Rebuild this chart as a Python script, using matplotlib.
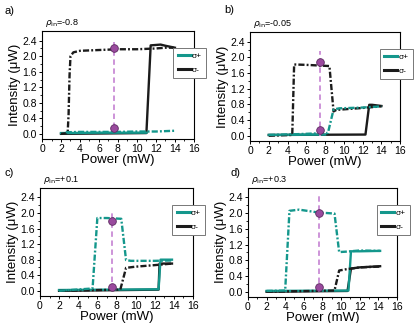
import numpy as np
import matplotlib
matplotlib.use("Agg")
import matplotlib.pyplot as plt
from matplotlib.lines import Line2D

plt.rcParams['font.family'] = ['Liberation Sans', 'DejaVu Sans']

TEAL = "#14978c"
BLACK = "#1b1b1b"
PURPLE_LINE = "#c98bd6"
PURPLE_DOT = "#9a4a9e"

# ---- données (Power en mW, Intensity en µW) ----
panel_tags = ["a)", "b)", "c)", "d)"]
rho_in = ["-0.8", "-0.05", "+0.1", "+0.3"]

# (a) rho_in = -0.8
a_sp_up_x = [2.5, 4, 6, 8, 10, 12, 13, 14]
a_sp_up_y = [0.04, 0.05, 0.05, 0.05, 0.06, 0.06, 0.07, 0.08]
a_sp_dn_x = [2.0, 6, 11.0]
a_sp_dn_y = [0.02, 0.03, 0.03]
a_sm_up_x = [2.0, 2.7, 2.8, 2.9, 3.0, 3.3, 4, 6, 8, 10, 12, 13, 13.8, 14.0]
a_sm_up_y = [0.0, 0.02, 0.5, 1.5, 2.0, 2.1, 2.14, 2.16, 2.18, 2.18, 2.2, 2.22, 2.22, 2.18]
a_sm_dn_x = [2.0, 11.0, 11.45, 12.5, 13, 14.0]
a_sm_dn_y = [0.0, 0.02, 2.28, 2.3, 2.27, 2.22]

# (b) rho_in = -0.05
b_sp_up_x = [2.0, 5, 8.3, 8.9, 9.5, 12, 14.0]
b_sp_up_y = [0.02, 0.04, 0.07, 0.67, 0.7, 0.72, 0.75]
b_sp_dn_x = [2.0, 8.0]
b_sp_dn_y = [0.02, 0.03]
b_sm_up_x = [2.0, 4.5, 4.7, 6, 8.46, 8.9, 9.2, 12, 14.0]
b_sm_up_y = [0.0, 0.02, 1.82, 1.81, 1.78, 0.62, 0.66, 0.71, 0.75]
b_sm_dn_x = [2.0, 12.3, 12.7, 13, 14.0]
b_sm_dn_y = [0.02, 0.03, 0.79, 0.79, 0.76]

# (c) rho_in = +0.1
c_sp_up_x = [2.0, 5.5, 6.0, 7, 8.5, 9.0, 9.5, 12, 13.8]
c_sp_up_y = [0.0, 0.06, 1.87, 1.87, 1.85, 0.79, 0.77, 0.77, 0.78]
c_sp_dn_x = [2.0, 12.4, 12.6, 13.8]
c_sp_dn_y = [0.02, 0.04, 0.8, 0.8]
c_sm_up_x = [2.0, 8.4, 9.0, 10, 12, 13.8]
c_sm_up_y = [0.0, 0.03, 0.59, 0.62, 0.66, 0.7]
c_sm_dn_x = [2.0, 12.4, 12.5, 13.8]
c_sm_dn_y = [0.0, 0.03, 0.7, 0.7]

# (d) rho_in = +0.3
d_sp_up_x = [2.0, 4.0, 4.46, 5.5, 7.5, 9.3, 9.8, 10.5, 12, 14.2]
d_sp_up_y = [0.02, 0.03, 2.06, 2.09, 2.02, 1.99, 1.01, 1.02, 1.05, 1.04]
d_sp_dn_x = [2.0, 10.8, 11.07, 12, 14.2]
d_sp_dn_y = [0.02, 0.03, 1.03, 1.03, 1.04]
d_sm_up_x = [2.0, 9.3, 9.8, 10.5, 12, 14.2]
d_sm_up_y = [0.0, 0.03, 0.54, 0.57, 0.62, 0.64]
d_sm_dn_x = [2.0, 10.7, 11.07, 12, 14.2]
d_sm_dn_y = [0.0, 0.02, 0.59, 0.62, 0.65]

# ligne pointillée violette : x, y bas, y haut, marqueurs
guide_x = [7.56, 7.43, 7.5, 7.6]
guide_lo = [0.16, 0.0, 0.0, 0.0]
guide_hi = [2.37, 2.16, 2.05, 2.47]
dot_hi = [2.2, 1.88, 1.8, 2.0]
dot_lo = [0.16, 0.14, 0.1, 0.12]

curves = [
    (a_sp_up_x, a_sp_up_y, a_sp_dn_x, a_sp_dn_y, a_sm_up_x, a_sm_up_y, a_sm_dn_x, a_sm_dn_y),
    (b_sp_up_x, b_sp_up_y, b_sp_dn_x, b_sp_dn_y, b_sm_up_x, b_sm_up_y, b_sm_dn_x, b_sm_dn_y),
    (c_sp_up_x, c_sp_up_y, c_sp_dn_x, c_sp_dn_y, c_sm_up_x, c_sm_up_y, c_sm_dn_x, c_sm_dn_y),
    (d_sp_up_x, d_sp_up_y, d_sp_dn_x, d_sp_dn_y, d_sm_up_x, d_sm_up_y, d_sm_dn_x, d_sm_dn_y),
]

# positions des axes (fractions de figure) : left, bottom, width, height
positions = [
    (0.101, 0.570, 0.365, 0.334),
    (0.601, 0.564, 0.361, 0.337),
    (0.096, 0.084, 0.368, 0.335),
    (0.596, 0.081, 0.358, 0.338),
]
tag_xy = [(0.012, 0.965), (0.540, 0.968), (0.012, 0.465), (0.555, 0.465)]

DASHDOT = (0, (2.6, 0.9, 0.8, 0.9))

fig = plt.figure(figsize=(4.16, 3.23), dpi=100)
for i in range(4):
    ax = fig.add_axes(positions[i])
    spx_u, spy_u, spx_d, spy_d, smx_u, smy_u, smx_d, smy_d = curves[i]
    ax.plot(smx_d, smy_d, color=BLACK, lw=1.7)
    ax.plot(spx_d, spy_d, color=TEAL, lw=1.7)
    ax.plot(smx_u, smy_u, color=BLACK, lw=1.7, ls=DASHDOT)
    ax.plot(spx_u, spy_u, color=TEAL, lw=1.7, ls=DASHDOT)
    # repère vertical + points de fonctionnement
    ax.plot([guide_x[i], guide_x[i]], [guide_lo[i], guide_hi[i]],
            color=PURPLE_LINE, lw=1.3, ls=(0, (3, 2)), zorder=4)
    ax.plot([guide_x[i], guide_x[i]], [dot_hi[i], dot_lo[i]], ls="none",
            marker="o", ms=5.5, mfc=PURPLE_DOT, mec="#5c2a60", mew=0.6, zorder=5)

    ax.set_xlim(0, 16)
    ax.set_ylim(-0.13, 2.65)
    ax.set_xticks(np.arange(0, 17, 2))
    ax.set_xticks(np.arange(1, 16, 2), minor=True)
    ax.set_yticks([0.0, 0.4, 0.8, 1.2, 1.6, 2.0, 2.4])
    ax.set_yticks([0.2, 0.6, 1.0, 1.4, 1.8, 2.2], minor=True)
    ax.set_yticklabels(["0.0", "0.4", "0.8", "1.2", "1.6", "2.0", "2.4"])
    ax.tick_params(which="major", direction="out", length=2.5, width=0.7,
                   labelsize=7.5, pad=1)
    ax.tick_params(which="minor", direction="out", length=1.5, width=0.6)
    for s in ax.spines.values():
        s.set_linewidth(0.8)
    ax.set_xlabel("Power (mW)", fontsize=9.5, labelpad=0)
    ax.set_ylabel("Intensity (μW)", fontsize=9.5, labelpad=1)
    ax.text(0.02, 1.015, r"$\rho_{\rm in}$=" + rho_in[i], transform=ax.transAxes,
            fontsize=6.5, va="bottom", ha="left")

    handles = [Line2D([], [], color=TEAL, lw=2.2), Line2D([], [], color=BLACK, lw=2.2)]
    leg = ax.legend(handles, ["σ+", "σ-"], loc="upper left",
                    bbox_to_anchor=(0.865, 0.84), borderaxespad=0,
                    fontsize=6, handlelength=1.6, handletextpad=0.15,
                    labelspacing=0.7, borderpad=0.5, fancybox=False,
                    framealpha=1)
    leg.get_frame().set_edgecolor("#777777")
    leg.get_frame().set_linewidth(0.7)
    leg.set_zorder(10)

    fig.text(tag_xy[i][0], tag_xy[i][1], panel_tags[i], fontsize=8, va="center")

fig.savefig("out.png", dpi=100)
